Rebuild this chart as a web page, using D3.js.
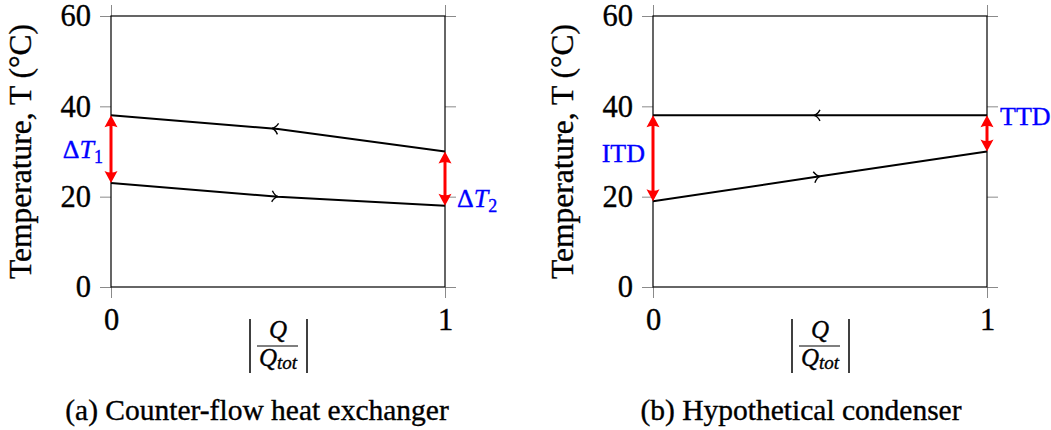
<!DOCTYPE html>
<html>
<head>
<meta charset="utf-8">
<script src="https://cdn.jsdelivr.net/npm/d3@7"></script>
<style>
  body { margin: 0; background: #fff; }
  svg text { font-family: "Liberation Serif", serif; stroke-width: 0.35px; }
</style>
</head>
<body>
<div class="chart"></div>
<script>
// shared axes
const qFrac = [0, 0.5, 1];
const xTicks = [0, 1];
const yTicks = [0, 20, 40, 60];

// (a) counter-flow heat exchanger
const hotA = [38, 35, 30];
const coldA = [23, 20, 18];
// (b) hypothetical condenser
const hotB = [38, 38, 38];
const coldB = [19, 24.5, 30];

const captions = ["(a) Counter-flow heat exchanger", "(b) Hypothetical condenser"];

const svg = d3.select(".chart").append("svg")
    .attr("width", 1051)
    .attr("height", 430);

const defs = svg.append("defs");
// small chevrons in the middle of the lines
defs.append("marker")
    .attr("id", "chevFwd")
    .attr("markerUnits", "userSpaceOnUse")
    .attr("markerWidth", 20).attr("markerHeight", 20)
    .attr("viewBox", "-10 -10 20 20")
    .attr("refX", 0).attr("refY", 0)
    .attr("orient", "auto")
    .append("path")
    .attr("d", "M-6,-5.5 C-4,-2 -2,-0.4 0,0 C-2,0.4 -4,2 -6,5.5")
    .attr("fill", "none").attr("stroke", "black").attr("stroke-width", 1.4);
defs.append("marker")
    .attr("id", "chevRev")
    .attr("markerUnits", "userSpaceOnUse")
    .attr("markerWidth", 20).attr("markerHeight", 20)
    .attr("viewBox", "-10 -10 20 20")
    .attr("refX", 0).attr("refY", 0)
    .attr("orient", "auto")
    .append("path")
    .attr("d", "M0,-5.5 C-2,-2 -4,-0.4 -6,0 C-4,0.4 -2,2 0,5.5")
    .attr("fill", "none").attr("stroke", "black").attr("stroke-width", 1.4);
// red arrow heads
defs.append("marker")
    .attr("id", "redHead")
    .attr("markerUnits", "userSpaceOnUse")
    .attr("markerWidth", 30).attr("markerHeight", 30)
    .attr("viewBox", "-15 -15 30 30")
    .attr("refX", 0).attr("refY", 0)
    .attr("orient", "auto-start-reverse")
    .append("path")
    .attr("d", "M7,0 L-5,-6.5 Q-2,0 -5,6.5 Z")
    .attr("fill", "#ff0000");

function drawPanel(g, opts) {
    const x = d3.scaleLinear().domain([0, 1]).range(opts.xRange);
    const y = d3.scaleLinear().domain([0, 60]).range([287, 16]);
    const [x0, x1] = opts.xRange;

    // ticks on all four sides, pointing out
    const tickStyle = sel => {
        sel.select(".domain").remove();
        sel.selectAll(".tick line").attr("stroke", "#8a8a8a").attr("stroke-width", 1);
        sel.selectAll(".tick text")
            .attr("font-family", "Liberation Serif")
            .attr("font-size", 30.5)
            .attr("fill", "black")
            .attr("stroke", "black");
    };
    g.append("g").attr("transform", `translate(${x0},0)`)
        .call(d3.axisLeft(y).tickValues(yTicks).tickSize(11).tickPadding(9))
        .call(tickStyle);
    g.append("g").attr("transform", `translate(${x1},0)`)
        .call(d3.axisRight(y).tickValues(yTicks).tickSize(11).tickFormat(""))
        .call(tickStyle);
    g.append("g").attr("transform", `translate(0,${y(0)})`)
        .call(d3.axisBottom(x).tickValues(xTicks).tickSize(11).tickPadding(10).tickFormat(d3.format("d")))
        .call(tickStyle);
    g.append("g").attr("transform", `translate(0,${y(60)})`)
        .call(d3.axisTop(x).tickValues(xTicks).tickSize(11).tickFormat(""))
        .call(tickStyle);

    g.append("rect")
        .attr("x", x0).attr("y", y(60))
        .attr("width", x1 - x0).attr("height", y(0) - y(60))
        .attr("fill", "none").attr("stroke", "black").attr("stroke-width", 1.2);

    const line = d3.line().x(d => x(d[0])).y(d => y(d[1]));
    g.append("path")
        .attr("d", line(qFrac.map((q, i) => [q, opts.hot[i]])))
        .attr("fill", "none").attr("stroke", "black").attr("stroke-width", 2)
        .attr("marker-mid", "url(#chevRev)");
    g.append("path")
        .attr("d", line(qFrac.map((q, i) => [q, opts.cold[i]])))
        .attr("fill", "none").attr("stroke", "black").attr("stroke-width", 2)
        .attr("marker-mid", "url(#chevFwd)");

    // red temperature-difference arrows at both ends
    const last = qFrac.length - 1;
    [[0, opts.hot[0], opts.cold[0]], [last, opts.hot[last], opts.cold[last]]].forEach(([i, top, bot]) => {
        g.append("line")
            .attr("x1", x(qFrac[i])).attr("x2", x(qFrac[i]))
            .attr("y1", y(top) + 7).attr("y2", y(bot) - 7)
            .attr("stroke", "#ff0000").attr("stroke-width", 3)
            .attr("marker-start", "url(#redHead)")
            .attr("marker-end", "url(#redHead)");
    });

    // blue labels
    opts.labels.forEach(l => {
        const t = g.append("text")
            .attr("x", x(l.q) + l.dx)
            .attr("y", y(l.t))
            .attr("dy", "0.35em")
            .attr("text-anchor", l.anchor)
            .attr("font-size", 26)
            .attr("fill", "#0000ff")
            .attr("stroke", "#0000ff");
        if (l.sub) {
            t.append("tspan").text("Δ");
            t.append("tspan").attr("font-style", "italic").text("T");
            t.append("tspan").attr("font-size", 18).attr("dy", 5).text(l.sub);
        } else {
            t.text(l.text);
        }
    });

    // y label
    g.append("text")
        .attr("transform", `translate(${x0 - 80},${(y(60) + y(0)) / 2}) rotate(-90)`)
        .attr("text-anchor", "middle")
        .attr("font-size", 31.5)
        .attr("stroke", "black")
        .text("Temperature, T (°C)");

    // x label |Q / Q_tot|
    const cx = x(0.5);
    g.append("text")
        .attr("x", cx).attr("y", 338)
        .attr("text-anchor", "middle")
        .attr("font-size", 25).attr("font-style", "italic")
        .attr("stroke", "black")
        .text("Q");
    g.append("line")
        .attr("x1", cx - 21).attr("x2", cx + 20)
        .attr("y1", 346).attr("y2", 346)
        .attr("stroke", "black").attr("stroke-width", 1.2);
    const qt = g.append("text")
        .attr("x", cx).attr("y", 366)
        .attr("text-anchor", "middle")
        .attr("font-size", 25).attr("font-style", "italic")
        .attr("stroke", "black");
    qt.append("tspan").text("Q");
    qt.append("tspan").attr("font-size", 19).attr("dy", 3).text("tot");
    [cx - 28, cx + 29].forEach(bx => {
        g.append("line")
            .attr("x1", bx).attr("x2", bx)
            .attr("y1", 319).attr("y2", 373)
            .attr("stroke", "black").attr("stroke-width", 1.5);
    });

    // caption
    g.append("text")
        .attr("x", opts.capX).attr("y", 420)
        .attr("text-anchor", "middle")
        .attr("font-size", 29.5)
        .attr("stroke", "black")
        .text(opts.caption);
}

drawPanel(svg.append("g"), {
    xRange: [111, 445],
    hot: hotA,
    cold: coldA,
    caption: captions[0],
    capX: 257,
    labels: [
        {q: 0, t: 30.5, dx: -8, anchor: "end", sub: "1"},
        {q: 1, t: 19.7, dx: 12, anchor: "start", sub: "2"}
    ]
});
drawPanel(svg.append("g"), {
    xRange: [653, 987],
    hot: hotB,
    cold: coldB,
    caption: captions[1],
    capX: 801,
    labels: [
        {q: 0, t: 29.6, dx: -8, anchor: "end", text: "ITD"},
        {q: 1, t: 37.9, dx: 13, anchor: "start", text: "TTD"}
    ]
});
</script>
</body>
</html>
